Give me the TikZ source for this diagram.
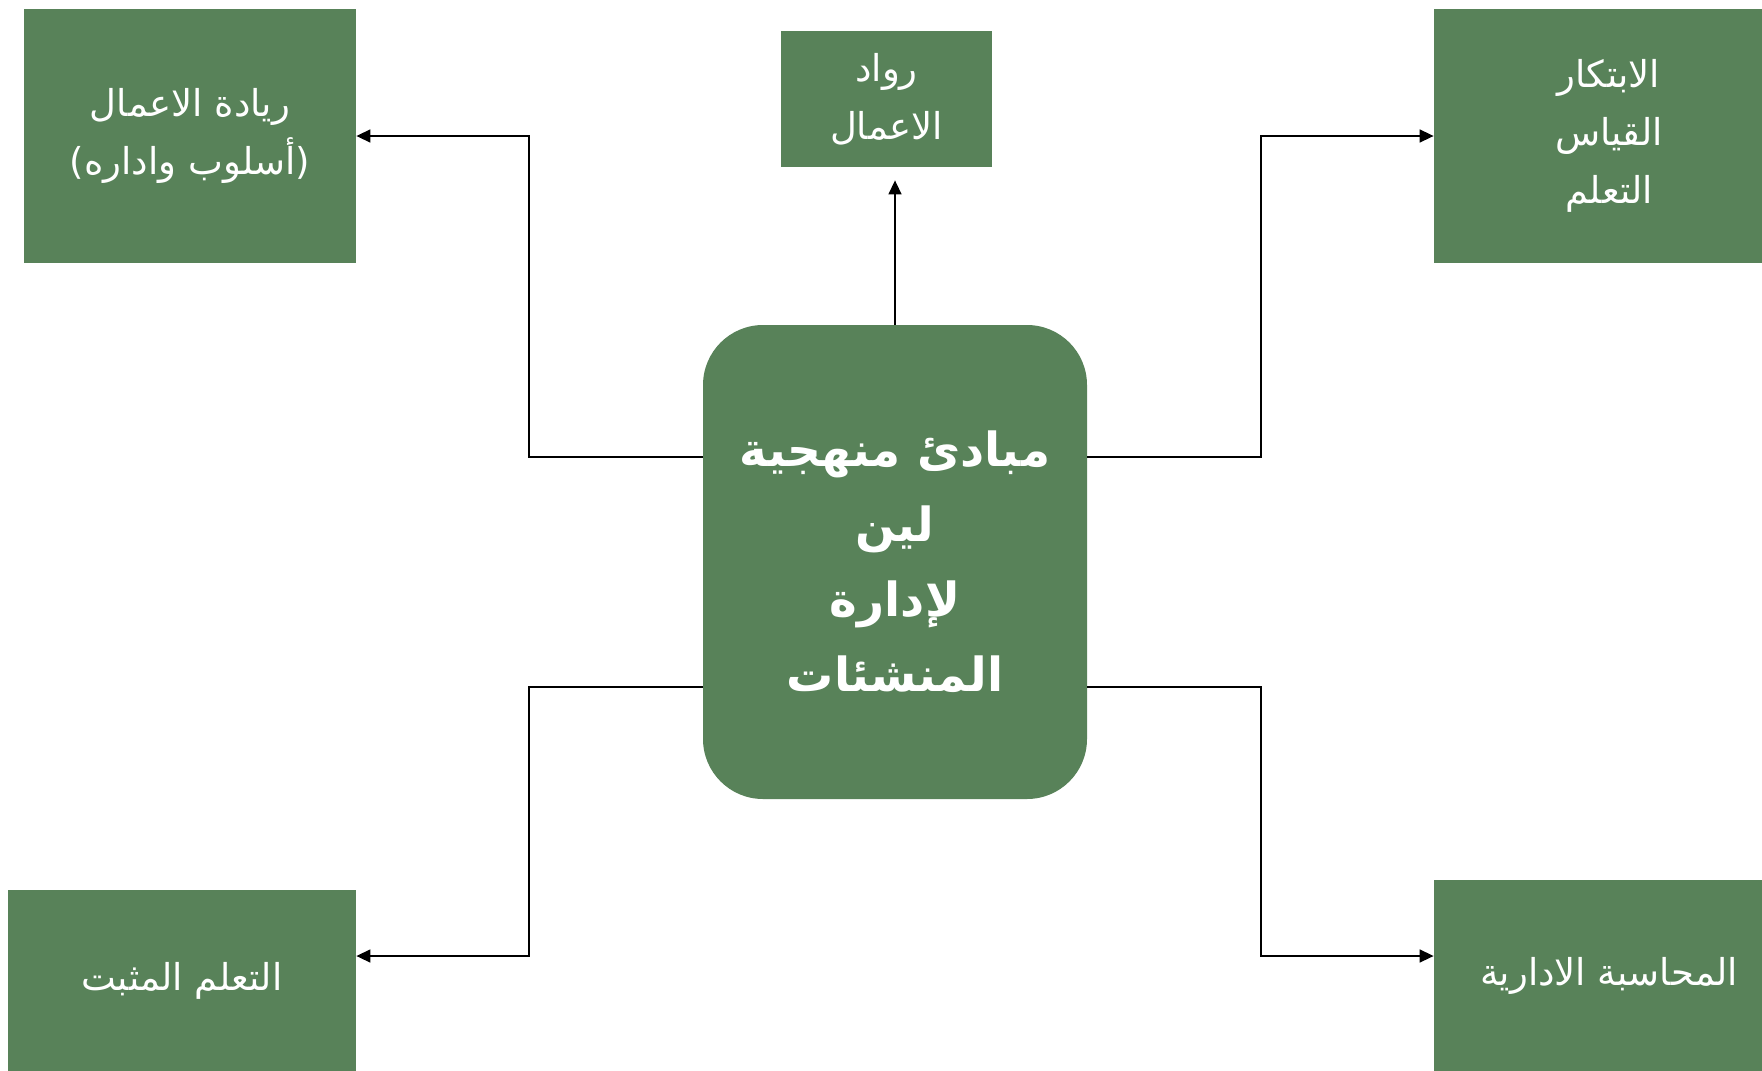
\documentclass[tikz,border=0pt]{standalone}
\usepackage{fontspec}
\newfontfamily\arabicfont[Script=Arabic]{DejaVu Sans}
\TeXXeTstate=1
\usetikzlibrary{arrows.meta}
\definecolor{boxgreen}{RGB}{88,130,89}
\tikzset{
  box/.style={fill=boxgreen, draw=none, text=white, align=center, inner sep=0pt,
    font=\arabicfont\fontsize{18.5}{29}\selectfont},
  mainbox/.style={box, rounded corners=30pt, font=\arabicfont\bfseries\fontsize{23.5}{37.5}\selectfont},
  arr/.style={draw=black, line width=0.75pt, -{Triangle[length=7pt,width=6.5pt]}},
}
\begin{document}
\begin{tikzpicture}[x=0.5pt,y=-0.5pt]
\useasboundingbox (0,0) rectangle (1762,1071);
\node[mainbox, minimum width=192pt, minimum height=237pt] (c) at (895,562)
  {\beginR مبادئ منهجية\endR\\\beginR لين\endR\\\beginR لإدارة\endR\\\beginR المنشئات\endR};
\node[box, minimum width=166pt, minimum height=127pt] (tl) at (190,136)
  {\beginR ريادة الاعمال\endR\\)\beginR أسلوب واداره\endR(};
\node[box, minimum width=105.5pt, minimum height=68pt] (tm) at (886.5,99)
  {\beginR رواد\endR\\\beginR الاعمال\endR};
\node[box, minimum width=175pt, minimum height=127pt] (tr) at (1609,136)
  {\beginR الابتكار\endR\\\beginR القياس\endR\\\beginR التعلم\endR};
\node[box, minimum width=174pt, minimum height=90.5pt] (bl) at (182,980.5)
  {\beginR التعلم المثبت\endR};
\node[box, minimum width=175pt, minimum height=95.5pt] (br) at (1609,975.5)
  {\beginR المحاسبة الادارية\endR};
\coordinate (k1) at (529,136);
\coordinate (k2) at (529,956);
\coordinate (k3) at (1261,136);
\coordinate (k4) at (1261,956);
\draw[arr, shorten >=6.5pt] (c.north) -- (c.north |- tm.south);
\draw[arr] ([yshift=52.5pt]c.west) -| (k1) -- (tl.east);
\draw[arr] ([yshift=-62.5pt]c.west) -| (k2) -- (k2 -| bl.east);
\draw[arr] ([yshift=52.5pt]c.east) -| (k3) -- (tr.west);
\draw[arr] ([yshift=-62.5pt]c.east) -| (k4) -- (k4 -| br.west);
\end{tikzpicture}
\end{document}
